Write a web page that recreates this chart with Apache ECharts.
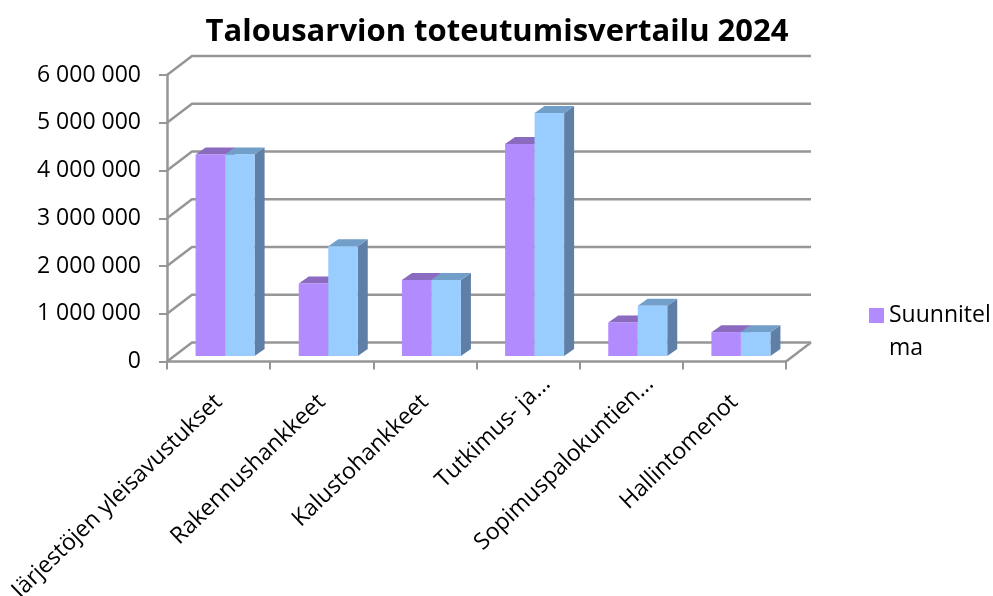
<!DOCTYPE html>
<html>
<head>
<meta charset="utf-8">
<style>
  html, body { margin: 0; padding: 0; background: #fff; }
  #chart { width: 993px; height: 596px; }
</style>
<script src="https://cdn.jsdelivr.net/npm/echarts@6/dist/echarts.min.js"></script>
</head>
<body>
<div id="chart"></div>
<script>
const categories = ['Järjestöjen yleisavustukset', 'Rakennushankkeet', 'Kalustohankkeet', 'Tutkimus- ja...', 'Sopimuspalokuntien...', 'Hallintomenot']
const suunnitelma = [4220000, 1520000, 1590000, 4440000, 700000, 500000]
const toteutuma = [4220000, 2300000, 1590000, 5090000, 1050000, 500000]
const yTicks = [0, 1000000, 2000000, 3000000, 4000000, 5000000, 6000000]

// 3d look: wall depth and bar depth in pixels
const wallDx = 25
const wallDy = 19
const barShiftX = 6.5
const barShiftY = 5.5
const barDx = 10
const barDy = 7
const lineColor = '#969696'
const fontName = '"Open Sans"'

function poly(points, color) {
  return {type: 'polygon', shape: {points: points}, style: {fill: color}}
}

function renderWall(params, api) {
  const rect = params.coordSys
  const y = api.coord([0, api.value(0)])[1]
  const x0 = rect.x
  const x1 = rect.x + rect.width
  let children = [{
    type: 'polyline',
    shape: {points: [[x0, y], [x0 + wallDx, y - wallDy], [x1 + wallDx, y - wallDy]]},
    style: {stroke: lineColor, lineWidth: 2.5, fill: null}
  }]
  if (api.value(0) === 0) {
    children.push({
      type: 'line',
      shape: {x1: x1, y1: y, x2: x1 + wallDx, y2: y - wallDy},
      style: {stroke: lineColor, lineWidth: 2.5}
    })
  }
  return {type: 'group', children: children}
}

function barRenderer(side, front, top, depth) {
  return function (params, api) {
    const band = api.size([1, 0])[0]
    const w = band * 0.286
    const p = api.coord([api.value(0), api.value(1)])
    const base = api.coord([api.value(0), 0])
    const x = p[0] + barShiftX + (side < 0 ? -w : 0)
    const yTop = p[1] - barShiftY
    const yBase = base[1] - barShiftY
    return {
      type: 'group',
      children: [
        poly([[x + w, yTop], [x + w + barDx, yTop - barDy], [x + w + barDx, yBase - barDy], [x + w, yBase]], depth),
        poly([[x, yTop], [x + barDx, yTop - barDy], [x + w + barDx, yTop - barDy], [x + w, yTop]], top),
        poly([[x, yTop], [x + w, yTop], [x + w, yBase], [x, yBase]], front)
      ]
    }
  }
}

// shortened labels sit further along their slant than the whole ones
const xAxisData = categories.map(c => ({
  value: c,
  textStyle: {padding: c.endsWith('...') ? [0, -26, 0, 0] : [0, 0, 0, 0]}
}))

const mychart = echarts.init(document.getElementById('chart'))
const option = {
  animation: false,
  textStyle: {fontFamily: fontName},
  title: {
    text: 'Talousarvion toteutumisvertailu 2024',
    left: 492,
    top: 12,
    textAlign: 'center',
    textStyle: {fontFamily: fontName, fontSize: 31, fontWeight: 'bold', color: '#000'}
  },
  legend: {
    left: 869,
    top: 266,
    padding: 0,
    data: ['Suunnitelma'],
    icon: 'rect',
    itemWidth: 15,
    itemHeight: 15,
    itemGap: 0,
    selectedMode: false,
    // blank first line keeps the swatch level with "Suunnitel"
    formatter: () => ' \nSuunnitel\nma',
    textStyle: {fontFamily: fontName, fontSize: 23, lineHeight: 33, color: '#000'}
  },
  grid: {left: 167, right: 207, top: 75, bottom: 234.5, outerBoundsMode: 'none'},
  xAxis: {
    type: 'category',
    data: xAxisData,
    axisLine: {lineStyle: {color: lineColor, width: 2.5}},
    axisTick: {show: true, length: 8, lineStyle: {color: lineColor, width: 2}},
    axisLabel: {interval: 0, rotate: 44, margin: 37, fontFamily: fontName, fontSize: 23, color: '#000'}
  },
  yAxis: {
    type: 'value',
    min: 0,
    max: 6000000,
    interval: 1000000,
    splitLine: {show: false},
    axisLine: {show: true, lineStyle: {color: lineColor, width: 2.5}},
    axisTick: {show: true, length: 8, lineStyle: {color: lineColor, width: 2}},
    axisLabel: {
      margin: 26,
      fontFamily: fontName,
      fontSize: 23,
      color: '#000',
      formatter: v => String(v).replace(/\B(?=(\d{3})+$)/g, ' ')
    }
  },
  series: [
    {
      name: 'wall',
      type: 'custom',
      silent: true,
      z: 1,
      renderItem: renderWall,
      encode: {y: 0},
      data: yTicks.map(v => [v])
    },
    {
      name: 'Suunnitelma',
      type: 'custom',
      z: 2,
      itemStyle: {color: '#b28cff'},
      renderItem: barRenderer(-1, '#b28cff', '#8a6bc0', '#6a52a0'),
      encode: {x: 0, y: 1},
      data: suunnitelma.map((v, i) => [i, v])
    },
    {
      name: 'Toteutuma',
      type: 'custom',
      z: 3,
      itemStyle: {color: '#99ccff'},
      renderItem: barRenderer(1, '#99ccff', '#729fc9', '#607fa6'),
      encode: {x: 0, y: 1},
      data: toteutuma.map((v, i) => [i, v])
    }
  ]
}
mychart.setOption(option)
window.onresize = function () {
  mychart.resize()
}
</script>
</body>
</html>
